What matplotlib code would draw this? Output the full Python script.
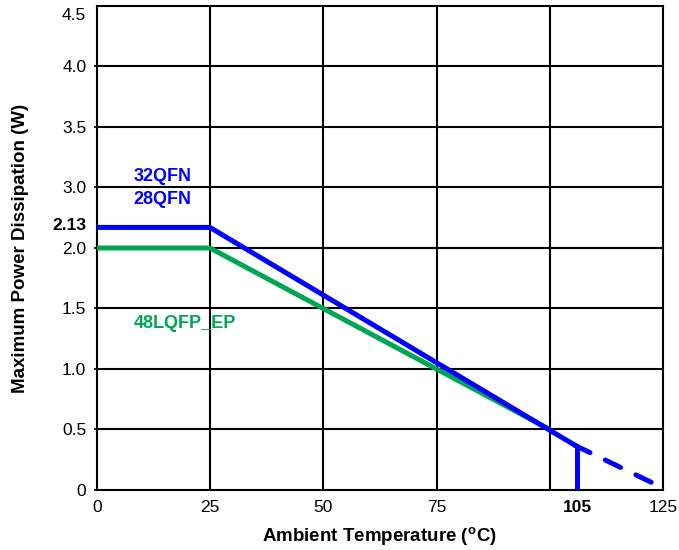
import matplotlib.pyplot as plt
import numpy as np

plt.rcParams['font.family'] = ['Liberation Sans', 'DejaVu Sans']
plt.rcParams['mathtext.fontset'] = 'custom'
plt.rcParams['mathtext.rm'] = 'Liberation Sans:bold'
plt.rcParams['mathtext.bf'] = 'Liberation Sans:bold'

# Data
qfn_temp = [0, 25, 106]
qfn_power = [2.17, 2.17, 0.36]
qfn_ext_temp = [105.5, 122.6]
qfn_ext_power = [0.37, 0.06]
lqfp_temp = [0, 25, 100]
lqfp_power = [2.0, 2.0, 0.5]

x_ticks = [0, 25, 50, 75, 106, 125]
x_labels = ['0', '25', '50', '75', '105', '125']
y_ticks = [0, 0.5, 1.0, 1.5, 2.0, 2.5, 3.0, 3.5, 3.93, 2.2]
y_labels = ['0', '0.5', '1.0', '1.5', '2.0', '3.0', '3.5', '4.0', '4.5', '2.13']

blue = '#0000ff'
green = '#00a651'

fig = plt.figure(figsize=(6.79, 5.5), dpi=100)
ax = fig.add_axes([0.1424, 0.1091, 0.8341, 0.8800])

# grid
for gx in [25, 50, 75, 100]:
    ax.axvline(gx, color='black', lw=1.5, zorder=1)
for gy in np.arange(0.5, 4.0, 0.5):
    ax.axhline(gy, color='black', lw=1.5, zorder=1)

ax.plot(lqfp_temp, lqfp_power, color=green, lw=3.6, solid_capstyle='round', zorder=3)
ax.plot(qfn_temp, qfn_power, color=blue, lw=3.6, solid_capstyle='round', zorder=4)
ax.plot([qfn_temp[-1], qfn_temp[-1]], [0, qfn_power[-1]], color=blue, lw=3.6,
        solid_capstyle='butt', zorder=4)
ax.plot(qfn_ext_temp, qfn_ext_power, color=blue, lw=3.6, dash_capstyle='round',
        linestyle=(0, (3.4, 3.4)), zorder=4)

ax.text(8.2, 2.59, '32QFN', color=blue, fontsize=13, fontweight='bold', va='center')
ax.text(8.2, 2.40, '28QFN', color=blue, fontsize=13, fontweight='bold', va='center')
ax.text(8.2, 1.38, '48LQFP_EP', color=green, fontsize=13, fontweight='bold', va='center')

ax.set_xlim(0, 125)
ax.set_ylim(0, 4.0)
ax.set_xticks(x_ticks)
ax.set_xticklabels(x_labels)
ax.set_yticks(y_ticks)
ax.set_yticklabels(y_labels)
ax.tick_params(axis='both', labelsize=12.5, length=2.5, width=1.2, color='black')
ax.tick_params(axis='y', pad=5)
ax.tick_params(axis='x', length=0, pad=7)
ax.get_xticklabels()[4].set_fontweight('bold')
ax.get_yticklabels()[9].set_fontweight('bold')
ax.get_yticklines()[16].set_visible(False)
ax.get_yticklines()[18].set_visible(False)

for s in ax.spines.values():
    s.set_linewidth(1.5)
    s.set_color('black')

ax.set_xlabel('Ambient Temperature ($^{\\mathbf{o}}$C)', fontsize=13.5, fontweight='bold')
ax.set_ylabel('Maximum Power Dissipation (W)', fontsize=13.5, fontweight='bold')
ax.xaxis.set_label_coords(0.5, -0.097)
ax.yaxis.set_label_coords(-0.134, 0.5)
ax.xaxis.label.set_va('center')
ax.yaxis.label.set_va('center')

fig.savefig('out.png', dpi=100)
